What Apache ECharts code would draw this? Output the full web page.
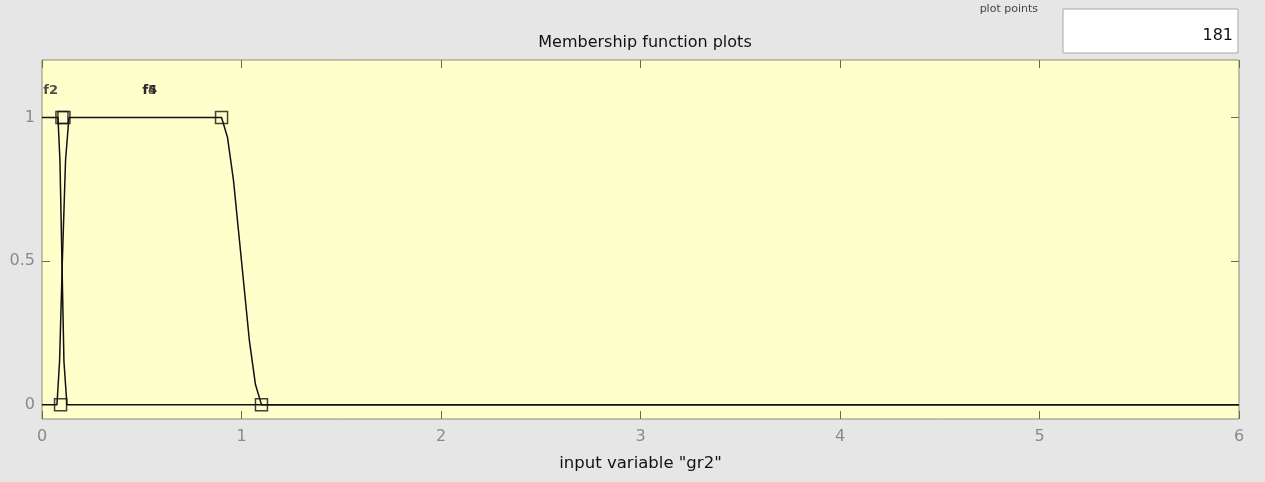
<!DOCTYPE html>
<html><head><meta charset="utf-8">
<script src="https://cdn.jsdelivr.net/npm/echarts@6/dist/echarts.min.js"></script>
<style>html,body{margin:0;padding:0;background:#e6e6e6;}#c{width:1265px;height:482px;}</style>
</head><body><div id="c"></div>
<script>
// Data
const xTicks = [0, 1, 2, 3, 4, 5, 6];
const yTicks = [0, 0.5, 1];
// falling MF near 0.1 (zmf-like)
const mfFall = [[0, 1], [0.08, 1], [0.09, 0.85], [0.1, 0.5], [0.11, 0.15], [0.125, 0], [6, 0]];
// rising near 0.1, plateau, falling 0.9 -> 1.1 (pimf-like)
const mfPi = [[0, 0], [0.075, 0], [0.088, 0.15], [0.102, 0.5], [0.118, 0.85], [0.135, 1],
  [0.9, 1], [0.93, 0.93], [0.96, 0.78], [1.0, 0.5], [1.04, 0.22], [1.07, 0.07], [1.1, 0], [6, 0]];
// parameter markers
const markers = [[0.093, 0], [0.1, 1], [0.11, 1], [0.9, 1], [1.1, 0]];
// MF labels
const mfLabels = [["f2", 0.043, 1.095], ["f4", 0.54, 1.095], ["f5", 0.54, 1.095]];
const plotPoints = "181";

const FONT = 'DejaVu Sans';
const chart = echarts.init(document.getElementById('c'));
const tickColor = '#6b6b50';
const labelColor = '#8a8a8a';
const hiddenLine = { show: false, onZero: false };
chart.setOption({
  backgroundColor: '#e6e6e6',
  animation: false,
  title: {
    text: 'Membership function plots', left: 640, top: 30, textAlign: 'center',
    textStyle: { fontFamily: FONT, fontSize: 16, fontWeight: 'normal', color: '#111' }
  },
  graphic: [
    { type: 'rect', shape: { x: 1063, y: 9, width: 175, height: 44 }, style: { fill: '#fff', stroke: '#a8a8a8', lineWidth: 1 } },
    { type: 'text', style: { text: plotPoints, x: 1233, y: 36, align: 'right', verticalAlign: 'middle', font: '16px "DejaVu Sans"', fill: '#111' } },
    { type: 'text', style: { text: 'plot points', x: 1038, y: 9, align: 'right', verticalAlign: 'middle', font: '11px "DejaVu Sans"', fill: '#444' } }
  ],
  grid: { left: 42, right: 26, top: 60, bottom: 63, show: true, backgroundColor: '#ffffcc', borderColor: '#8c8c70', borderWidth: 1 },
  xAxis: [
    { type: 'value', min: 0, max: 6, interval: 1, position: 'bottom',
      name: 'input variable "gr2"', nameLocation: 'middle', nameGap: 36,
      nameTextStyle: { fontFamily: FONT, fontSize: 16.5, color: '#111' },
      axisLine: hiddenLine, splitLine: { show: false },
      axisTick: { inside: true, length: 8, lineStyle: { color: tickColor } },
      axisLabel: { color: labelColor, fontFamily: FONT, fontSize: 16, margin: 10 } },
    { type: 'value', min: 0, max: 6, interval: 1, position: 'top',
      axisLine: hiddenLine, splitLine: { show: false },
      axisTick: { inside: true, length: 8, lineStyle: { color: tickColor } },
      axisLabel: { show: false } }
  ],
  yAxis: [
    { type: 'value', min: -0.05, max: 1.2, position: 'left',
      axisLine: hiddenLine, splitLine: { show: false },
      axisTick: { inside: true, length: 8, customValues: yTicks, lineStyle: { color: tickColor } },
      axisLabel: { customValues: yTicks, color: labelColor, fontFamily: FONT, fontSize: 16, margin: 7 } },
    { type: 'value', min: -0.05, max: 1.2, position: 'right',
      axisLine: hiddenLine, splitLine: { show: false },
      axisTick: { inside: true, length: 8, customValues: yTicks, lineStyle: { color: tickColor } },
      axisLabel: { show: false } }
  ],
  series: [
    { type: 'line', data: mfFall, showSymbol: false, lineStyle: { color: '#111', width: 1.5 } },
    { type: 'line', data: mfPi, showSymbol: false, lineStyle: { color: '#111', width: 1.5 } },
    { type: 'scatter', data: markers, symbol: 'rect', symbolSize: 12,
      itemStyle: { color: 'rgba(0,0,0,0)', borderColor: '#111', borderWidth: 1.5 } },
    { type: 'scatter', symbolSize: 0,
      data: mfLabels.map(d => ({ name: d[0], value: [d[1], d[2]] })),
      label: { show: true, position: 'inside', formatter: p => p.name, color: '#222',
        fontFamily: FONT, fontSize: 13, fontWeight: 'bold' } }
  ]
});
</script></body></html>
